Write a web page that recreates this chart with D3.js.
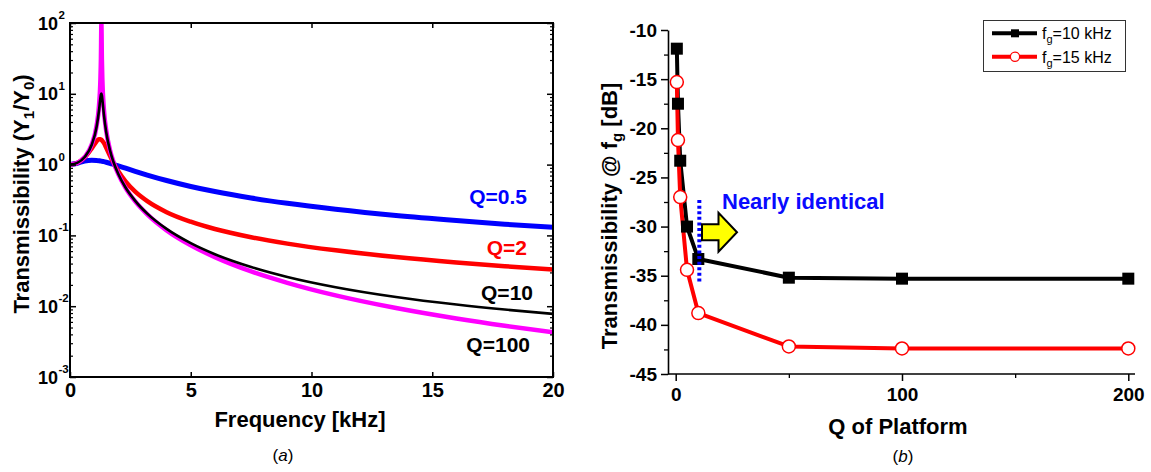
<!DOCTYPE html>
<html>
<head>
<meta charset="utf-8">
<script src="https://cdn.jsdelivr.net/npm/d3@7"></script>
<style>
  html, body { margin: 0; padding: 0; background: #fff; }
  svg { display: block; font-family: "Liberation Sans", Arial, Helvetica, sans-serif; }
</style>
</head>
<body>
<svg id="fig" width="1151" height="472"></svg>
<script>
// ---- Panel (a): transmissibility Y1/Y0 versus frequency ----
const freqKHz = [0, 0.3, 0.6, 0.9, 1.1, 1.2, 1.26, 1.28, 1.3, 1.32, 1.34, 1.4, 1.5, 1.65, 1.8,
                 2.0, 2.3, 2.7, 3.2, 4, 5, 6, 7.5, 9, 11, 13.5, 16, 18, 20];
const transQ05 = [1, 1.046, 1.122, 1.155, 1.146, 1.134, 1.125, 1.121, 1.118, 1.115, 1.111, 1.100, 1.079, 1.045, 1.009,
                  0.961, 0.890, 0.804, 0.712, 0.596, 0.491, 0.416, 0.338, 0.284, 0.234, 0.191, 0.162, 0.144, 0.130];
const transQ2 = [1, 1.055, 1.251, 1.692, 2.131, 2.273, 2.275, 2.260, 2.236, 2.205, 2.167, 2.022, 1.735, 1.345, 1.058,
                 0.804, 0.579, 0.415, 0.305, 0.213, 0.156, 0.123, 0.0942, 0.0766, 0.0615, 0.0494, 0.0414, 0.0367, 0.0329];
const transQ10 = [1, 1.056, 1.270, 1.908, 3.386, 5.759, 8.790, 9.748, 10.05, 9.468, 8.340, 5.220, 2.869, 1.615, 1.088,
                  0.736, 0.475, 0.308, 0.203, 0.1235, 0.0777, 0.0542, 0.0358, 0.0259, 0.01855, 0.01349, 0.01054, 0.00896, 0.00779];
const transQ100 = [1, 1.056, 1.271, 1.920, 3.519, 6.747, 16.30, 31.17, 100, 30.66, 15.79, 6.246, 3.016, 1.637, 1.090,
                   0.732, 0.470, 0.302, 0.198, 0.118, 0.0726, 0.0493, 0.0310, 0.0214, 0.0142, 0.00941, 0.00670, 0.00529, 0.00429];
const curveLabels = ["Q=0.5", "Q=2", "Q=10", "Q=100"];
const decadeExponents = [-3, -2, -1, 0, 1, 2];
const freqTicks = [0, 5, 10, 15, 20];

// ---- Panel (b): transmissibility at the gyro frequency versus platform Q ----
const platformQ = [0.5, 1, 2, 5, 10, 50, 100, 200];
const dB10k = [-11.9, -17.5, -23.3, -30.0, -33.3, -35.2, -35.3, -35.3];
const dB15k = [-15.3, -21.2, -27.0, -34.4, -38.8, -42.2, -42.4, -42.4];
const seriesNames = ["=10 kHz", "=15 kHz"];
const dbTicks = [-45, -40, -35, -30, -25, -20, -15, -10];
const dbMinorTicks = [-42.5, -37.5, -32.5, -27.5, -22.5, -17.5, -12.5];
const qTicks = [0, 100, 200];
const qMinorTicks = [50, 150];

const svg = d3.select("#fig");
svg.append("rect").attr("width", 1151).attr("height", 472).attr("fill", "#fff");

const BOLD = "bold";

// ================= Panel (a) =================
const L = { x0: 70, x1: 553, y0: 23, y1: 377 };
const xL = d3.scaleLinear().domain([0, 20]).range([L.x0, L.x1]);
const yL = d3.scaleLog().domain([1e-3, 1e2]).range([L.y1, L.y0]);

const gA = svg.append("g");

svg.append("defs").append("clipPath").attr("id", "clipA")
  .append("rect").attr("x", L.x0).attr("y", L.y0)
  .attr("width", L.x1 - L.x0).attr("height", L.y1 - L.y0);

const lineA = d3.line()
  .x((d, i) => xL(freqKHz[i]))
  .y(d => yL(d))
  .curve(d3.curveMonotoneX);

const curves = [
  { values: transQ05, color: "#0000ff", width: 5 },
  { values: transQ2, color: "#ff0000", width: 4.5 },
  { values: transQ100, color: "#ff00ff", width: 4.5 },
  { values: transQ10, color: "#000000", width: 2.6 }
];
const plotA = gA.append("g").attr("clip-path", "url(#clipA)");
curves.forEach(c => {
  plotA.append("path")
    .attr("d", lineA(c.values))
    .attr("fill", "none")
    .attr("stroke", c.color)
    .attr("stroke-width", c.width)
    .attr("stroke-linejoin", "round");
});

// inward ticks on all four sides
const minorVals = [];
decadeExponents.slice(0, -1).forEach(e => {
  for (let k = 2; k <= 9; k++) minorVals.push(k * Math.pow(10, e));
});
function styleAxis(g) {
  g.select(".domain").remove();
  g.selectAll(".tick line").attr("stroke", "#000").attr("stroke-width", 1.5);
}
gA.append("g").attr("transform", `translate(0,${L.y1})`)
  .call(d3.axisBottom(xL).tickValues(freqTicks).tickSize(-5).tickPadding(6).tickFormat(d3.format("d")))
  .call(styleAxis)
  .call(g => g.selectAll("text").attr("font-size", 20).attr("font-weight", BOLD)
    .attr("font-family", "Liberation Sans, Arial, sans-serif").attr("fill", "#000"));
gA.append("g").attr("transform", `translate(0,${L.y0})`)
  .call(d3.axisTop(xL).tickValues(freqTicks).tickSize(-5).tickFormat(""))
  .call(styleAxis);
[["left", L.x0], ["right", L.x1]].forEach(([side, x]) => {
  const mk = side === "left" ? d3.axisLeft : d3.axisRight;
  gA.append("g").attr("transform", `translate(${x},0)`)
    .call(mk(yL).tickValues(decadeExponents.map(e => Math.pow(10, e))).tickSize(-6).tickFormat(""))
    .call(styleAxis);
  gA.append("g").attr("transform", `translate(${x},0)`)
    .call(mk(yL).tickValues(minorVals).tickSize(-3).tickFormat(""))
    .call(styleAxis)
    .call(g => g.selectAll(".tick line").attr("stroke-width", 1.2));
});

gA.append("rect")
  .attr("x", L.x0).attr("y", L.y0)
  .attr("width", L.x1 - L.x0).attr("height", L.y1 - L.y0)
  .attr("fill", "none").attr("stroke", "#000").attr("stroke-width", 2);

// decade labels 10^n
decadeExponents.forEach(e => {
  const y = yL(Math.pow(10, e));
  gA.append("text").attr("x", 58).attr("y", y + 6.5)
    .attr("text-anchor", "end").attr("font-size", 18).attr("font-weight", BOLD)
    .text("10");
  gA.append("text").attr("x", 58.5).attr("y", y - 4)
    .attr("text-anchor", "start").attr("font-size", 11.5).attr("font-weight", BOLD)
    .text(String(e));
});

// curve labels
const labelSpec = [
  { text: curveLabels[0], color: "#0000ff", x: 527, y: 204 },
  { text: curveLabels[1], color: "#ff0000", x: 527, y: 255 },
  { text: curveLabels[2], color: "#000000", x: 533, y: 300 },
  { text: curveLabels[3], color: "#000000", x: 530, y: 352 }
];
labelSpec.forEach(s => {
  gA.append("text").attr("x", s.x).attr("y", s.y)
    .attr("text-anchor", "end").attr("font-size", 21).attr("font-weight", BOLD)
    .attr("fill", s.color).text(s.text);
});

// axis titles
gA.append("text").attr("x", 300).attr("y", 427)
  .attr("text-anchor", "middle").attr("font-size", 22).attr("font-weight", BOLD)
  .text("Frequency [kHz]");
const yTitleA = gA.append("text")
  .attr("transform", "translate(29,194) rotate(-90)")
  .attr("text-anchor", "middle").attr("font-size", 22).attr("font-weight", BOLD);
yTitleA.append("tspan").text("Transmissibility (Y");
yTitleA.append("tspan").attr("font-size", 15).attr("dy", 5).text("1");
yTitleA.append("tspan").attr("dy", -5).text("/Y");
yTitleA.append("tspan").attr("font-size", 15).attr("dy", 5).text("0");
yTitleA.append("tspan").attr("dy", -5).text(")");

const capA = gA.append("text").attr("x", 283).attr("y", 461)
  .attr("text-anchor", "middle").attr("font-size", 17);
capA.append("tspan").text("(");
capA.append("tspan").attr("font-style", "italic").text("a");
capA.append("tspan").text(")");

// ================= Panel (b) =================
const R = { axisX: 668, axisY: 374, xEnd: 1135 };
const xR = d3.scaleLinear().domain([0, 200]).range([675.7, 1128.3]);
const yR = d3.scaleLinear().domain([-45, -10]).range([374, 30]);
const gB = svg.append("g");

// y axis
gB.append("g").attr("transform", `translate(${R.axisX},0)`)
  .call(d3.axisLeft(yR).tickValues(dbTicks).tickSize(7).tickSizeOuter(0).tickPadding(4).tickFormat(d3.format("d")))
  .call(g => g.select(".domain").attr("stroke", "#000").attr("stroke-width", 1.6))
  .call(g => g.selectAll(".tick line").attr("stroke", "#000").attr("stroke-width", 1.5))
  .call(g => g.selectAll("text").attr("font-size", 19).attr("font-weight", BOLD)
    .attr("font-family", "Liberation Sans, Arial, sans-serif").attr("fill", "#000")
    .text(d => "-" + Math.abs(d)));
gB.append("g").attr("transform", `translate(${R.axisX},0)`)
  .call(d3.axisLeft(yR).tickValues(dbMinorTicks).tickSize(4).tickFormat(""))
  .call(g => g.select(".domain").remove())
  .call(g => g.selectAll(".tick line").attr("stroke", "#000").attr("stroke-width", 1.3));

// x axis
gB.append("line").attr("x1", R.axisX).attr("x2", R.xEnd)
  .attr("y1", R.axisY).attr("y2", R.axisY)
  .attr("stroke", "#000").attr("stroke-width", 1.6);
gB.append("g").attr("transform", `translate(0,${R.axisY})`)
  .call(d3.axisBottom(xR).tickValues(qTicks).tickSize(7).tickPadding(7).tickFormat(d3.format("d")))
  .call(g => g.select(".domain").remove())
  .call(g => g.selectAll(".tick line").attr("stroke", "#000").attr("stroke-width", 1.5))
  .call(g => g.selectAll("text").attr("font-size", 19).attr("font-weight", BOLD)
    .attr("font-family", "Liberation Sans, Arial, sans-serif").attr("fill", "#000"));
gB.append("g").attr("transform", `translate(0,${R.axisY})`)
  .call(d3.axisBottom(xR).tickValues(qMinorTicks).tickSize(4).tickFormat(""))
  .call(g => g.select(".domain").remove())
  .call(g => g.selectAll(".tick line").attr("stroke", "#000").attr("stroke-width", 1.3));

// series lines
const lineB = d3.line().x((d, i) => xR(platformQ[i])).y(d => yR(d));
gB.append("path").attr("d", lineB(dB10k)).attr("fill", "none")
  .attr("stroke", "#000").attr("stroke-width", 4).attr("stroke-linejoin", "round");
gB.append("path").attr("d", lineB(dB15k)).attr("fill", "none")
  .attr("stroke", "#ff0000").attr("stroke-width", 4).attr("stroke-linejoin", "round");

// markers
const sq = 12;
gB.append("g").selectAll("rect").data(dB10k).join("rect")
  .attr("x", (d, i) => xR(platformQ[i]) - sq / 2)
  .attr("y", d => yR(d) - sq / 2)
  .attr("width", sq).attr("height", sq).attr("fill", "#000");
gB.append("g").selectAll("circle").data(dB15k).join("circle")
  .attr("cx", (d, i) => xR(platformQ[i]))
  .attr("cy", d => yR(d))
  .attr("r", 6.5).attr("fill", "#fff").attr("stroke", "#ff0000").attr("stroke-width", 1.5);

// annotation: dotted marker at Q=10 and arrow
gB.append("line")
  .attr("x1", xR(10) + 1).attr("x2", xR(10) + 1)
  .attr("y1", yR(-27.3)).attr("y2", yR(-35.7))
  .attr("stroke", "#0000ff").attr("stroke-width", 4).attr("stroke-dasharray", "3,2.6");

const ax = 702, ay = yR(-30.58);
const arrowPts = [
  [ax, ay - 8], [ax + 16.5, ay - 8], [ax + 16.5, ay - 19.5], [ax + 35, ay],
  [ax + 16.5, ay + 19.5], [ax + 16.5, ay + 8], [ax, ay + 8]
];
gB.append("polygon")
  .attr("points", arrowPts.map(p => p.join(",")).join(" "))
  .attr("fill", "#ffff00").attr("stroke", "#000").attr("stroke-width", 2)
  .attr("stroke-linejoin", "miter");

gB.append("text").attr("x", 722).attr("y", 209)
  .attr("font-size", 22).attr("font-weight", BOLD).attr("fill", "#0a0aff")
  .text("Nearly identical");

// axis titles
gB.append("text").attr("x", 898).attr("y", 434)
  .attr("text-anchor", "middle").attr("font-size", 22).attr("font-weight", BOLD)
  .text("Q of Platform");
const yTitleB = gB.append("text")
  .attr("transform", "translate(617,216) rotate(-90)")
  .attr("text-anchor", "middle").attr("font-size", 22).attr("font-weight", BOLD);
yTitleB.append("tspan").text("Transmissibility @ f");
yTitleB.append("tspan").attr("font-size", 15).attr("dy", 5).text("g");
yTitleB.append("tspan").attr("dy", -5).text(" [dB]");

const capB = gB.append("text").attr("x", 903).attr("y", 462)
  .attr("text-anchor", "middle").attr("font-size", 17);
capB.append("tspan").text("(");
capB.append("tspan").attr("font-style", "italic").text("b");
capB.append("tspan").text(")");

// legend
const leg = gB.append("g");
leg.append("rect").attr("x", 983.5).attr("y", 20.5).attr("width", 142).attr("height", 51)
  .attr("fill", "#fff").attr("stroke", "#333").attr("stroke-width", 1);
const legRows = [
  { y: 33.3, color: "#000", marker: "square", name: seriesNames[0] },
  { y: 56.7, color: "#ff0000", marker: "circle", name: seriesNames[1] }
];
legRows.forEach(r => {
  leg.append("line").attr("x1", 992).attr("x2", 1037).attr("y1", r.y).attr("y2", r.y)
    .attr("stroke", r.color).attr("stroke-width", 4);
  if (r.marker === "square") {
    leg.append("rect").attr("x", 1015 - 4).attr("y", r.y - 4).attr("width", 8).attr("height", 8).attr("fill", "#000");
  } else {
    leg.append("circle").attr("cx", 1015).attr("cy", r.y).attr("r", 4.6)
      .attr("fill", "#fff").attr("stroke", "#ff0000").attr("stroke-width", 1.2);
  }
  const t = leg.append("text").attr("x", 1042).attr("y", r.y + 6).attr("font-size", 16);
  t.append("tspan").text("f");
  t.append("tspan").attr("font-size", 11).attr("dy", 4).text("g");
  t.append("tspan").attr("dy", -4).text(r.name);
});
</script>
</body>
</html>
